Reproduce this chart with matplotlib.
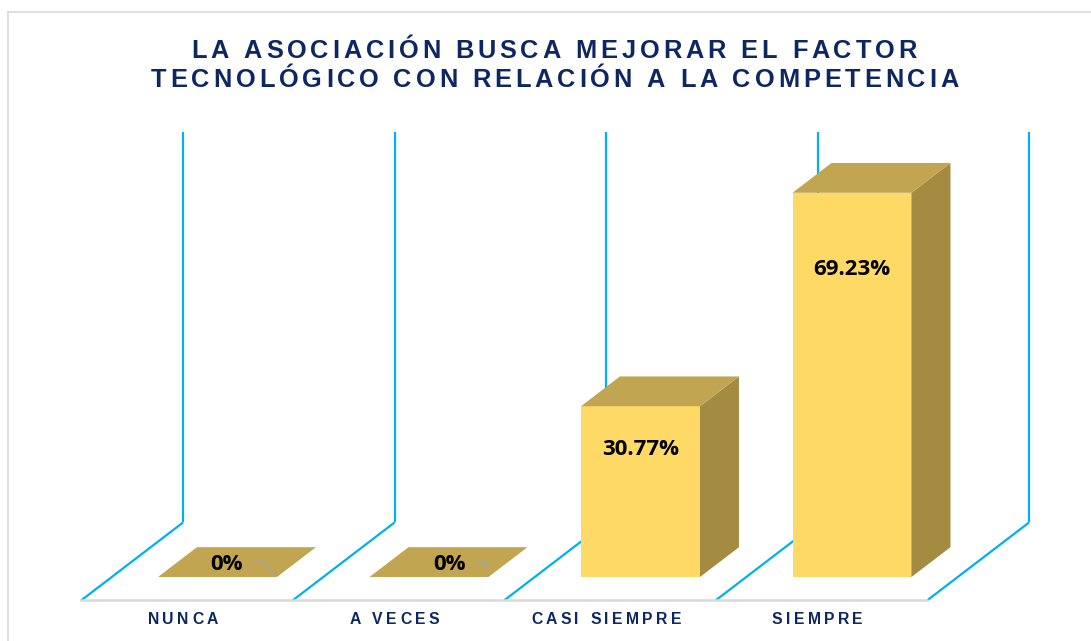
import matplotlib
matplotlib.use('Agg')
import matplotlib.pyplot as plt
from matplotlib.patches import Polygon
from matplotlib.lines import Line2D
from matplotlib.font_manager import FontProperties
from matplotlib.transforms import offset_copy

# ---------------- data ----------------
categories = ['NUNCA', 'A VECES', 'CASI SIEMPRE', 'SIEMPRE']
values = [0.0, 0.0, 30.77, 69.23]
value_labels = ['0%', '0%', '30.77%', '69.23%']
title_lines = ['LA ASOCIACIÓN BUSCA MEJORAR EL FACTOR',
               'TECNOLÓGICO CON RELACIÓN A LA COMPETENCIA']

# ---------------- style / geometry ----------------
W_PX, H_PX, DPI = 1091, 641, 100
PX_PER_X = 211.5          # pixels per category
PX_PER_V = 5.55           # pixels per percent
X0_PX, V0_PX = 217.5, 577  # pixel of category 0 / value 0 (front plane)
DEPTH_DX = 102 / PX_PER_X  # full floor depth in data units
DEPTH_DV = 78 / PX_PER_V
T_FRONT, T_BARBACK, T_BACK = -0.3, 0.382, 0.7
BAR_W = 119 / PX_PER_X
WALL_H = 70.35
LABEL_FRAC = [0.5, 0.5, 0.76, 0.807]
ZERO_LABEL_SHIFT_PX = [-10, 1]

BLUE = '#00B0F0'
GRID_GRAY = '#D9D9D9'
FRONT = '#FFD966'
TOP = '#C2A550'
SIDE = '#A48B42'
NAVY = '#0E2763'

fig = plt.figure(figsize=(W_PX / DPI, H_PX / DPI), dpi=DPI)
fig.patch.set_facecolor('white')
ax = fig.add_axes([0, 0, 1, 1])
ax.set_xlim(-X0_PX / PX_PER_X, (W_PX - X0_PX) / PX_PER_X)
ax.set_ylim((V0_PX - H_PX) / PX_PER_V, V0_PX / PX_PER_V)
ax.axis('off')

# chart border (light gray)
fig.add_artist(Line2D([8 / W_PX, 8 / W_PX], [0, 1 - 12 / H_PX], color=GRID_GRAY, lw=1.2,
                      transform=fig.transFigure))
fig.add_artist(Line2D([8 / W_PX, 1], [1 - 12 / H_PX, 1 - 12 / H_PX], color=GRID_GRAY, lw=1.2,
                      transform=fig.transFigure))

n = len(categories)
# floor/wall grid lines
for k in range(n + 1):
    xb = k - 0.5
    xf, vf = xb + T_FRONT * DEPTH_DX, T_FRONT * DEPTH_DV
    xk, vk = xb + T_BACK * DEPTH_DX, T_BACK * DEPTH_DV
    ax.plot([xf, xk], [vf, vk], color=BLUE, lw=1.6, zorder=1, solid_capstyle='butt')
    ax.plot([xk, xk], [vk, vk + WALL_H], color=BLUE, lw=1.6, zorder=1, solid_capstyle='butt')
ax.plot([-0.5 + T_FRONT * DEPTH_DX, n - 0.5 + T_FRONT * DEPTH_DX],
        [T_FRONT * DEPTH_DV] * 2, color=GRID_GRAY, lw=1.8, zorder=1)

# bars
bdx, bdv = T_BARBACK * DEPTH_DX, T_BARBACK * DEPTH_DV
for i, val in enumerate(values):
    xl, xr = i - BAR_W / 2, i + BAR_W / 2
    if val > 0:
        ax.add_patch(Polygon([(xl, 0), (xr, 0), (xr, val), (xl, val)], closed=True,
                             facecolor=FRONT, edgecolor='none', zorder=3))
        ax.add_patch(Polygon([(xr, 0), (xr + bdx, bdv), (xr + bdx, val + bdv), (xr, val)],
                             closed=True, facecolor=SIDE, edgecolor='none', zorder=3))
    ax.add_patch(Polygon([(xl, val), (xr, val), (xr + bdx, val + bdv), (xl + bdx, val + bdv)],
                         closed=True, facecolor=TOP, edgecolor='none', zorder=3))

# value labels
lab_font = dict(family=['Open Sans', 'DejaVu Sans'], weight='bold', size=16)
for i, (val, lab) in enumerate(zip(values, value_labels)):
    if val > 0:
        ax.text(i, val * LABEL_FRAC[i], lab, ha='center', va='center_baseline',
                color='black', zorder=5, **lab_font)
    else:
        cx = i + bdx / 2 + ZERO_LABEL_SHIFT_PX[i] / PX_PER_X
        cy = bdv / 2
        ax.text(cx, cy, lab, ha='center', va='center_baseline', color='black', zorder=5, **lab_font)
        x1 = cx + 26 / PX_PER_X
        x2 = cx + 37 / PX_PER_X
        ax.plot([x1, x2, i + BAR_W / 2 - 1 / PX_PER_X], [cy, cy, 0.2], color='#A6A6A6',
                lw=1.0, zorder=4)

# letter-spaced text helper
renderer = fig.canvas.get_renderer()


def spaced_text(x, y, s, transform, spacing_px, prop, color):
    em = prop.get_size_in_points() * DPI / 72
    widths = []
    for ch in s:
        if ch == ' ':
            widths.append(0.278 * em)
        else:
            widths.append(renderer.get_text_width_height_descent(ch, prop, ismath=False)[0])
    total = sum(widths) + spacing_px * (len(s) - 1)
    cur = -total / 2
    for ch, w in zip(s, widths):
        if ch != ' ':
            tr = offset_copy(transform, fig=fig, x=cur, y=0, units='dots')
            fig.text(x, y, ch, transform=tr, fontproperties=prop, color=color,
                     ha='left', va='baseline')
        cur += w + spacing_px


title_prop = FontProperties(family='Liberation Sans', weight='bold', size=18.3)
spaced_text(554 / W_PX, 1 - 57.5 / H_PX, title_lines[0], fig.transFigure, 3.85, title_prop, NAVY)
spaced_text(555 / W_PX, 1 - 87 / H_PX, title_lines[1], fig.transFigure, 3.85, title_prop, NAVY)

cat_prop = FontProperties(family='Liberation Sans', weight='bold', size=11.3)
for i, cat in enumerate(categories):
    xc = i + T_FRONT * DEPTH_DX
    px = X0_PX + xc * PX_PER_X - 4
    spaced_text(px / W_PX, 1 - 624 / H_PX, cat, fig.transFigure, 3.4, cat_prop, NAVY)

fig.savefig('out.png', dpi=DPI, facecolor='white')
